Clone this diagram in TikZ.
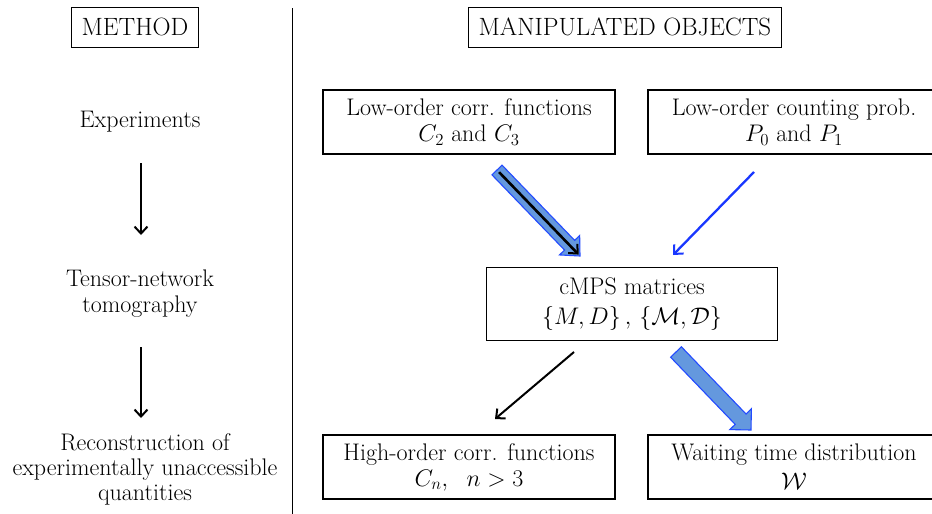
\RequirePackage{fix-cm}
\documentclass[tikz,border=0pt]{standalone}
\usetikzlibrary{arrows.meta,calc}
\definecolor{fatblue}{RGB}{100,152,222}
\definecolor{edgeblue}{RGB}{35,75,255}
\definecolor{thinblue}{RGB}{25,55,255}
\newcommand{\bodyfont}{\fontsize{24}{26}\selectfont}
\newcommand{\hdrfont}{\fontsize{25}{29}\selectfont}
\newcommand{\fatarr}[5]{% start, end, half shaft, half head, head length
  \coordinate (fh) at ($(#2)!#5!(#1)$);
  \path[fatfill] ($(#1)!#3!90:(#2)$) -- ($(fh)!#3!90:(#2)$) -- ($(fh)!#4!90:(#2)$) -- (#2)
    -- ($(fh)!#4!-90:(#2)$) -- ($(fh)!#3!-90:(#2)$) -- ($(#1)!#3!-90:(#2)$) -- cycle;}
\tikzset{
  box/.style={draw=black, line width=1.3pt, align=center, font=\bodyfont, inner sep=0pt,
    minimum width=292pt, minimum height=64pt},
  hdr/.style={draw=black, line width=0.9pt, inner xsep=10pt, inner ysep=0pt,
    minimum height=40pt, font=\hdrfont},
  lbl/.style={align=center, font=\bodyfont},
  thinarrow/.style={line width=2pt, -{Straight Barb[length=7pt,width=13pt,line width=2pt]}},
  fatfill/.style={fill=fatblue, draw=edgeblue, line width=1.1pt, line join=miter},
}
\begin{document}
\begin{tikzpicture}[x=1pt,y=-1pt]
\useasboundingbox (0,0) rectangle (932,514);
% headers
\node[hdr] (method) at (135,27) {METHOD};
\node[hdr] (manip) at (625,27) {MANIPULATED OBJECTS};
\coordinate (divtop) at (292,8);
\coordinate (divbot) at (292,514);
\draw[line width=1pt] (divtop) -- (divbot);
% method column
\node[lbl] (exp) at (140,122) {Experiments};
\node[lbl] (tn) at (140,294) {Tensor-network\\tomography};
\node[lbl, font=\fontsize{24}{25}\selectfont] (rec) at (145,469) {Reconstruction of\\experimentally unaccessible\\quantities};
\coordinate (m1s) at (141,163);
\coordinate (m1e) at (141,235);
\coordinate (m2s) at (141,347);
\coordinate (m2e) at (141,418);
\draw[thinarrow] (m1s) -- (m1e);
\draw[thinarrow] (m2s) -- (m2e);
% boxes
\node[box] (lc) at (469,122) {Low-order corr. functions\\$C_2\ \mathrm{and}\ C_3$};
\node[box] (lp) at (794,122) {Low-order counting prob.\\$P_0\ \mathrm{and}\ P_1$};
\node[box, minimum width=291pt, minimum height=73pt] (cmps) at (632,304) {cMPS matrices\\[4pt]$\{M,D\}\,,\,\{\mathcal{M},\mathcal{D}\}$};
\node[box] (ho) at (469,467) {High-order corr. functions\\$C_n,~~n>3$};
\node[box] (wt) at (794,467) {Waiting time distribution\\[3pt]$\mathcal{W}$};
% fat arrow 1 with black arrow
\coordinate (f1s) at (497,170);
\coordinate (f1e) at (580,256);
\fatarr{f1s}{f1e}{7pt}{14pt}{15pt}
\draw[thinarrow, line width=2.6pt] ($(f1s)!3pt!(f1e)$) -- ($(f1e)!2pt!(f1s)$);
% thin blue arrow
\coordinate (t1s) at (754,172);
\coordinate (t1e) at (673,255);
\draw[thinarrow, thinblue, line width=2.3pt] (t1s) -- (t1e);
% black arrow
\coordinate (b1s) at (574,352);
\coordinate (b1e) at (495,419);
\draw[thinarrow] (b1s) -- (b1e);
% fat arrow 2
\coordinate (f2s) at (676,352);
\coordinate (f2e) at (751,430);
\fatarr{f2s}{f2e}{7.5pt}{15pt}{15pt}
\end{tikzpicture}
\end{document}
